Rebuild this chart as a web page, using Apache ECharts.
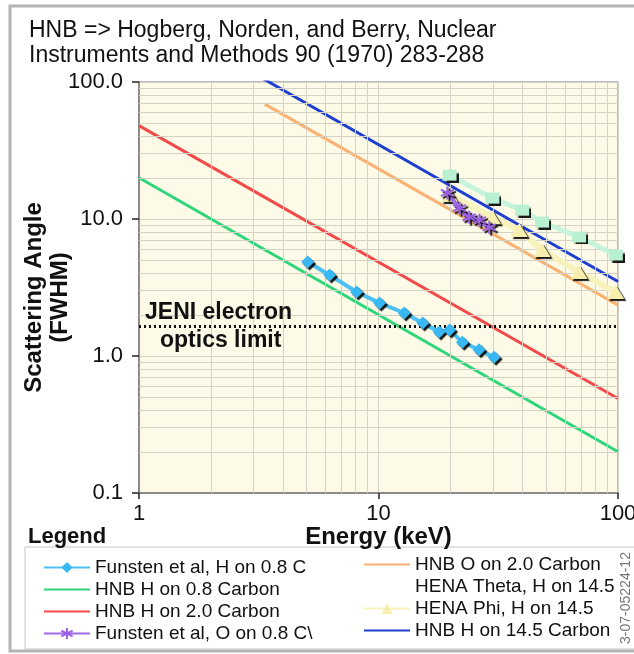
<!DOCTYPE html>
<html>
<head>
<meta charset="utf-8">
<script src="https://cdn.jsdelivr.net/npm/echarts@6/dist/echarts.min.js"></script>
<style>
  html, body { margin: 0; padding: 0; background: #fff; }
  #chart { width: 634px; height: 654px; }
</style>
</head>
<body>
<div id="chart"></div>
<script>
// theory curves (HNB)
var hnbH08 = [[1, 20], [100, 0.2]];
var hnbH20 = [[1, 48], [100, 0.49]];
var hnbO20 = [[3.35, 69], [100, 2.35]];
var hnbH145 = [[3.2, 109], [100, 3.5]];

// measurements
var funstenH = [[5.06, 4.85], [6.25, 3.9], [8.1, 2.93], [10.1, 2.44], [12.8, 2.06], [15.3, 1.74],
  [17.9, 1.5], [19.8, 1.55], [22.4, 1.26], [26.3, 1.11], [30.4, 0.98]];
var funstenO = [[19.4, 15.5], [21.8, 12.0], [23.9, 10.3], [26.4, 9.8], [29.0, 8.7]];
var henaTheta = [[19.8, 20.9], [29.9, 14.2], [39.8, 11.6], [48.2, 9.5], [68.8, 7.39], [97.9, 5.46]];
var henaPhi = [[19.8, 15.0], [29.9, 10.3], [38.7, 8.3], [48.2, 5.94], [68.8, 4.1], [97.9, 2.93]];

var jeniLimit = 1.66;

// minor grid lines
var minorX = [2, 3, 4, 5, 6, 7, 8, 9, 20, 30, 40, 50, 60, 70, 80, 90];
var minorY = [0.2, 0.3, 0.4, 0.5, 0.6, 0.7, 0.8, 0.9, 2, 3, 4, 5, 6, 7, 8, 9, 20, 30, 40, 50, 60, 70, 80, 90];
var xTicks = ['1', '10', '100'];

var FONT = "'Liberation Sans', Arial, sans-serif";
var gridColor = '#d4d2c4';
var shadow = { shadowColor: 'rgba(0,0,0,0.9)', shadowOffsetX: 2, shadowOffsetY: 2, shadowBlur: 1 };
var asterisk = 'path://M0,-10L0,10M-8.66,-5L8.66,5M-8.66,5L8.66,-5';
var noMark = { opacity: 0 };

var gridLines = [];
minorX.forEach(function (v) { gridLines.push({ xAxis: v }); });
minorY.forEach(function (v) { gridLines.push({ yAxis: v }); });

var chart = echarts.init(document.getElementById('chart'));
chart.setOption({
  animation: false,
  backgroundColor: '#fff',
  title: {
    text: 'HNB => Hogberg, Norden, and Berry, Nuclear\nInstruments and Methods 90 (1970) 283-288',
    left: 24, top: 13,
    textStyle: { fontFamily: FONT, fontSize: 23, fontWeight: 'normal', color: '#111', lineHeight: 25 }
  },
  grid: {
    left: 139, right: 16, top: 82, bottom: 161,
    outerBoundsMode: 'none',
    show: true, backgroundColor: '#fdfbe7', borderColor: '#a8a8a8', borderWidth: 1.5
  },
  xAxis: {
    type: 'log', logBase: 10, min: 1, max: 100,
    name: 'Energy (keV)', nameLocation: 'middle', nameGap: 32, nameMoveOverlap: false,
    nameTextStyle: { fontFamily: FONT, fontSize: 24, fontWeight: 'bold', color: '#111' },
    axisLine: { lineStyle: { color: '#777', width: 1.5 } },
    axisTick: { length: 6, lineStyle: { color: '#222', width: 1.5 } },
    axisLabel: {
      margin: 10, fontFamily: FONT, fontSize: 22, color: '#111',
      formatter: function (v) { return xTicks[Math.round(Math.log10(v))]; }
    },
    splitLine: { show: true, lineStyle: { color: gridColor, width: 1 } }
  },
  yAxis: {
    type: 'log', logBase: 10, min: 0.1, max: 100,
    name: 'Scattering Angle\n(FWHM)', nameLocation: 'middle', nameGap: 66, nameRotate: 90,
    nameMoveOverlap: false,
    nameTextStyle: { fontFamily: FONT, fontSize: 24, fontWeight: 'bold', color: '#111', lineHeight: 26,
      padding: [0, 20, 0, 0] },
    axisLine: { show: true, lineStyle: { color: '#777', width: 1.5 } },
    axisTick: { show: true, length: 7, lineStyle: { color: '#222', width: 1.5 } },
    axisLabel: {
      margin: 16, fontFamily: FONT, fontSize: 22, color: '#111',
      formatter: function (v) { return Number(v).toFixed(1); }
    },
    splitLine: { show: true, lineStyle: { color: gridColor, width: 1 } }
  },
  legend: [{
    orient: 'vertical', left: 38, top: 553, itemWidth: 46, itemHeight: 14, itemGap: 3,
    textStyle: { fontFamily: FONT, fontSize: 19, color: '#111', lineHeight: 19 },
    data: ['Funsten et al, H on 0.8 C',
      { name: 'HNB H on 0.8 Carbon', itemStyle: noMark },
      { name: 'HNB H on 2.0 Carbon', itemStyle: noMark },
      'Funsten et al, O on 0.8 C\\']
  }, {
    orient: 'vertical', left: 358, top: 550, itemWidth: 46, itemHeight: 14, itemGap: 3,
    textStyle: { fontFamily: FONT, fontSize: 19, color: '#111', lineHeight: 19 },
    data: [{ name: 'HNB O on 2.0 Carbon', itemStyle: noMark },
      { name: 'HENA Theta, H on 14.5', itemStyle: noMark, lineStyle: noMark },
      'HENA Phi, H on 14.5',
      { name: 'HNB H on 14.5 Carbon', itemStyle: noMark }]
  }],
  graphic: [
    { type: 'rect', silent: true, shape: { x: 10, y: 6, width: 700, height: 645 },
      style: { fill: 'none', stroke: '#b4b4b4', lineWidth: 3 } },
    { type: 'rect', silent: true, shape: { x: 25, y: 547, width: 700, height: 102 },
      style: { fill: 'none', stroke: '#c4c4c4', lineWidth: 1 } },
    { type: 'text', left: 28, top: 526,
      style: { text: 'Legend', font: 'bold 22px ' + FONT, fill: '#111' } },
    { type: 'text', left: 145, top: 301, z: 20,
      style: { text: 'JENI electron', font: 'bold 23px ' + FONT, fill: '#111' } },
    { type: 'text', left: 160, top: 329, z: 20,
      style: { text: 'optics limit', font: 'bold 23px ' + FONT, fill: '#111' } },
    { type: 'text', x: 633, y: 598, rotation: Math.PI / 2, z: 20,
      style: { text: '3-07-05224-12', font: '14px ' + FONT, fill: '#777', align: 'center', verticalAlign: 'bottom' } }
  ],
  series: [
    {
      name: 'grid', type: 'line', data: [], z: 1, silent: true,
      markLine: {
        silent: true, symbol: 'none', label: { show: false },
        lineStyle: { color: gridColor, width: 1, type: 'solid' },
        data: gridLines
      }
    },
    {
      name: 'HNB H on 0.8 Carbon', type: 'line', data: hnbH08, symbol: 'none', z: 3,
      color: '#2fd57b', lineStyle: { width: 3, color: '#2fd57b' }
    },
    {
      name: 'HNB H on 2.0 Carbon', type: 'line', data: hnbH20, symbol: 'none', z: 3,
      color: '#f24a4a', lineStyle: { width: 3, color: '#f24a4a' }
    },
    {
      name: 'HNB O on 2.0 Carbon', type: 'line', data: hnbO20, symbol: 'none', z: 3,
      color: '#f9b274', lineStyle: { width: 3, color: '#f9b274' }
    },
    {
      name: 'HNB H on 14.5 Carbon', type: 'line', data: hnbH145, symbol: 'none', z: 3,
      color: '#1e3fd0', lineStyle: { width: 3, color: '#1e3fd0' }
    },
    {
      name: 'jeni', type: 'line', data: [], z: 4, silent: true,
      markLine: {
        silent: true, symbol: 'none', label: { show: false },
        lineStyle: { color: '#111', width: 3, type: [2, 3] },
        data: [{ yAxis: jeniLimit }]
      }
    },
    {
      name: 'HENA Theta, H on 14.5', type: 'line', data: henaTheta, z: 5,
      symbol: 'rect', symbolSize: [14, 11], color: '#b8f0d2',
      lineStyle: { width: 5, color: '#c6f3dc' },
      itemStyle: Object.assign({ color: '#b8f0d2' }, shadow)
    },
    {
      name: 'HENA Phi, H on 14.5', type: 'line', data: henaPhi, z: 5,
      symbol: 'triangle', symbolSize: [17, 14], color: '#f7efae',
      lineStyle: { width: 6, color: '#f8f2bc' },
      itemStyle: Object.assign({ color: '#f7efae' }, shadow)
    },
    {
      name: 'Funsten et al, O on 0.8 C\\', type: 'line', data: funstenO, z: 6,
      symbol: asterisk, symbolSize: 13, color: '#9b5fe8',
      lineStyle: { width: 4, color: '#a06be8' },
      itemStyle: Object.assign({ color: '#9b5fe8', borderColor: '#9b5fe8', borderWidth: 2 }, shadow)
    },
    {
      name: 'Funsten et al, H on 0.8 C', type: 'line', data: funstenH, z: 6,
      symbol: 'diamond', symbolSize: 13, color: '#38b8f2',
      lineStyle: { width: 4, color: '#4cc0f2' },
      itemStyle: Object.assign({ color: '#38b8f2' }, shadow)
    }
  ]
});
</script>
</body>
</html>
